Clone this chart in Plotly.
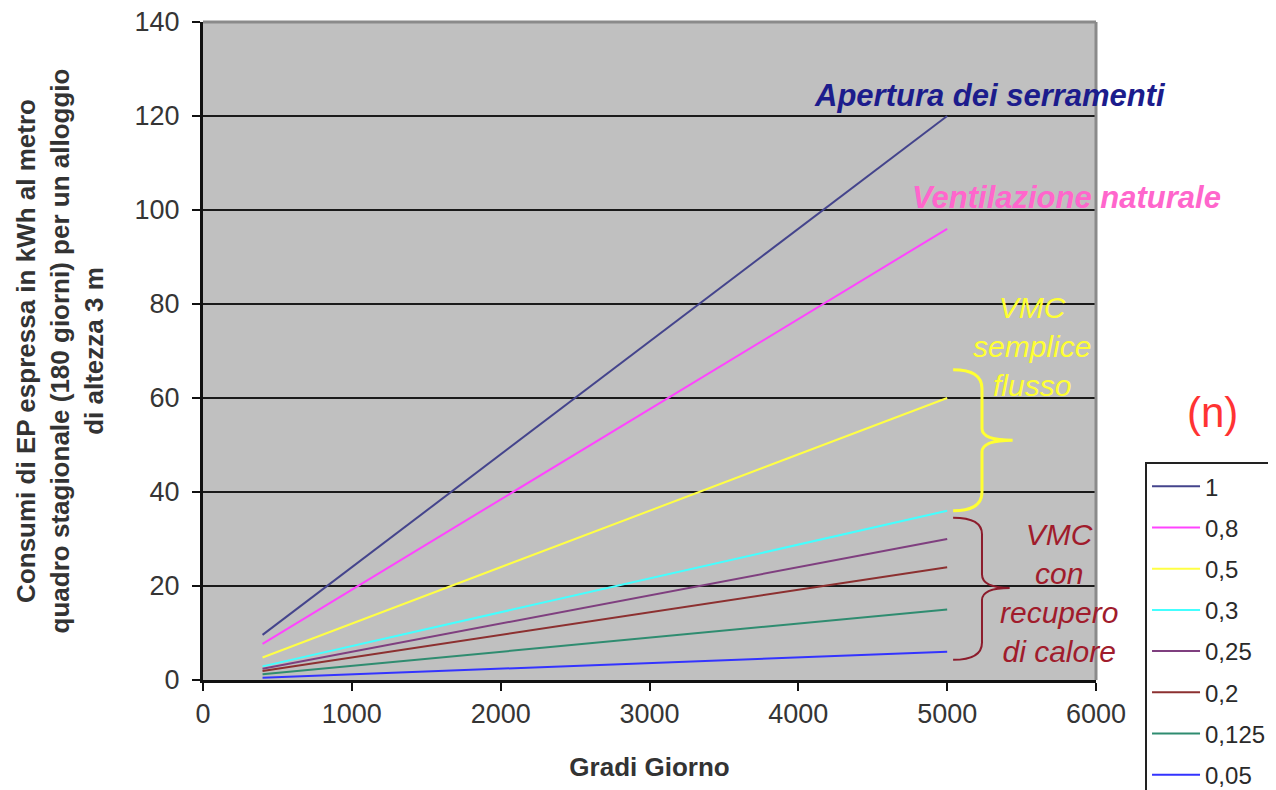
import plotly.graph_objects as go

# Gradi Giorno (x) and EP consumption per air-change rate n
GRADI_GIORNO = [400, 5000]
N_LABELS = ["1", "0,8", "0,5", "0,3", "0,25", "0,2", "0,125", "0,05"]
CONSUMI = [
    [9.6, 120],
    [7.7, 96],
    [4.8, 60],
    [2.9, 36],
    [2.4, 30],
    [1.9, 24],
    [1.2, 15],
    [0.5, 6],
]
COLORS = ["#44448c", "#ff44ff", "#ffff44", "#44ffff",
          "#7f3f7f", "#8c3030", "#2f8c70", "#3333ff"]

X_TICKS = [0, 1000, 2000, 3000, 4000, 5000, 6000]
Y_TICKS = [0, 20, 40, 60, 80, 100, 120, 140]

FONT = "Arial, 'Liberation Sans', sans-serif"
PLOT_BG = "#c0c0c0"
TICK_COLOR = "#353535"

fig = go.Figure()

for label, ys, color in zip(N_LABELS, CONSUMI, COLORS):
    fig.add_trace(go.Scatter(
        x=GRADI_GIORNO, y=ys,
        mode="lines",
        name=label,
        legendgroup=label,
        line=dict(color=color, width=2),
    ))

# braces grouping the VMC curves
yellow_brace = ("M 5040 66 Q 5234 66 5234 62 L 5234 53.5 Q 5234 51 5440 51 "
                "Q 5234 51 5234 48.5 L 5234 40 Q 5234 36 5040 36")
red_brace = ("M 5040 34.5 Q 5234 34.5 5234 31 L 5234 22.5 Q 5234 19.6 5420 19.6 "
             "Q 5234 19.6 5234 17 L 5234 8 Q 5234 4.3 5040 4.3")
fig.add_shape(type="path", path=yellow_brace, xref="x", yref="y",
              line=dict(color="#ffff33", width=3), layer="above")
fig.add_shape(type="path", path=red_brace, xref="x", yref="y",
              line=dict(color="#8c1c2c", width=2), layer="above")

# gray border on top and right of the plot area
fig.add_shape(type="line", xref="paper", yref="paper", x0=0, x1=1, y0=1, y1=1,
              line=dict(color="#8a8a8a", width=3), layer="above")
fig.add_shape(type="line", xref="paper", yref="paper", x0=1, x1=1, y0=0, y1=1,
              line=dict(color="#8a8a8a", width=3), layer="above")


def note(text, x, y, color, size=30, bold=False, italic=True, ref="x"):
    fig.add_annotation(
        x=x, y=y, xref=ref, yref=ref.replace("x", "y"), text=text, showarrow=False,
        font=dict(family=FONT, size=size, color=color,
                  weight="bold" if bold else "normal",
                  style="italic" if italic else "normal"),
        xanchor="center", yanchor="middle",
    )


note("Apertura dei serramenti", 5290, 124.3, "#1c1c8c", size=31, bold=True)
note("Ventilazione naturale", 5800, 102.6, "#ff66cc", size=31, bold=True)
note("VMC<br>semplice<br>flusso", 5570, 71, "#ffff33")
note("VMC<br>con<br>recupero<br>di calore", 5750, 18.5, "#a01c2c")
note("(n)", 1.13, 0.407, "#ff3333", size=42, italic=False, ref="paper")

fig.update_layout(
    width=1276, height=790,
    paper_bgcolor="white",
    plot_bgcolor=PLOT_BG,
    font=dict(family=FONT, color=TICK_COLOR, size=27),
    margin=dict(l=195, r=188, t=14, b=118, autoexpand=False),
    showlegend=True,
    legend=dict(
        x=1.0549, y=0.331, xanchor="left", yanchor="top",
        bgcolor="white", bordercolor="#222222", borderwidth=2,
        font=dict(family=FONT, size=24, color="#2a2a2a"),
        tracegroupgap=7, itemwidth=48,
    ),
    xaxis=dict(
        range=[0, 6000], tickvals=X_TICKS,
        showgrid=False, zeroline=False,
        showline=True, linecolor="#111111", linewidth=3,
        ticks="outside", ticklen=8, tickwidth=2, tickcolor="#111111",
        ticklabeloverflow="allow",
        tickfont=dict(size=27, color=TICK_COLOR),
        title=dict(text="<b>Gradi Giorno</b>", standoff=30,
                   font=dict(size=26, color="#333333")),
    ),
    yaxis=dict(
        range=[0, 140], tickvals=Y_TICKS,
        showgrid=True, gridcolor="#1a1a1a", gridwidth=2,
        zeroline=False,
        showline=True, linecolor="#111111", linewidth=3,
        ticks="outside", ticklen=8, tickwidth=2, tickcolor="#111111",
        ticklabelstandoff=7, ticklabeloverflow="allow",
        tickfont=dict(size=27, color=TICK_COLOR),
        title=dict(
            text="<b>Consumi di EP espressa in kWh al metro<br>"
                 "quadro stagionale (180 giorni) per un alloggio<br>"
                 "di altezza 3 m</b>",
            standoff=24, font=dict(size=26, color="#333333"),
        ),
    ),
)

fig.write_html("out.html")
